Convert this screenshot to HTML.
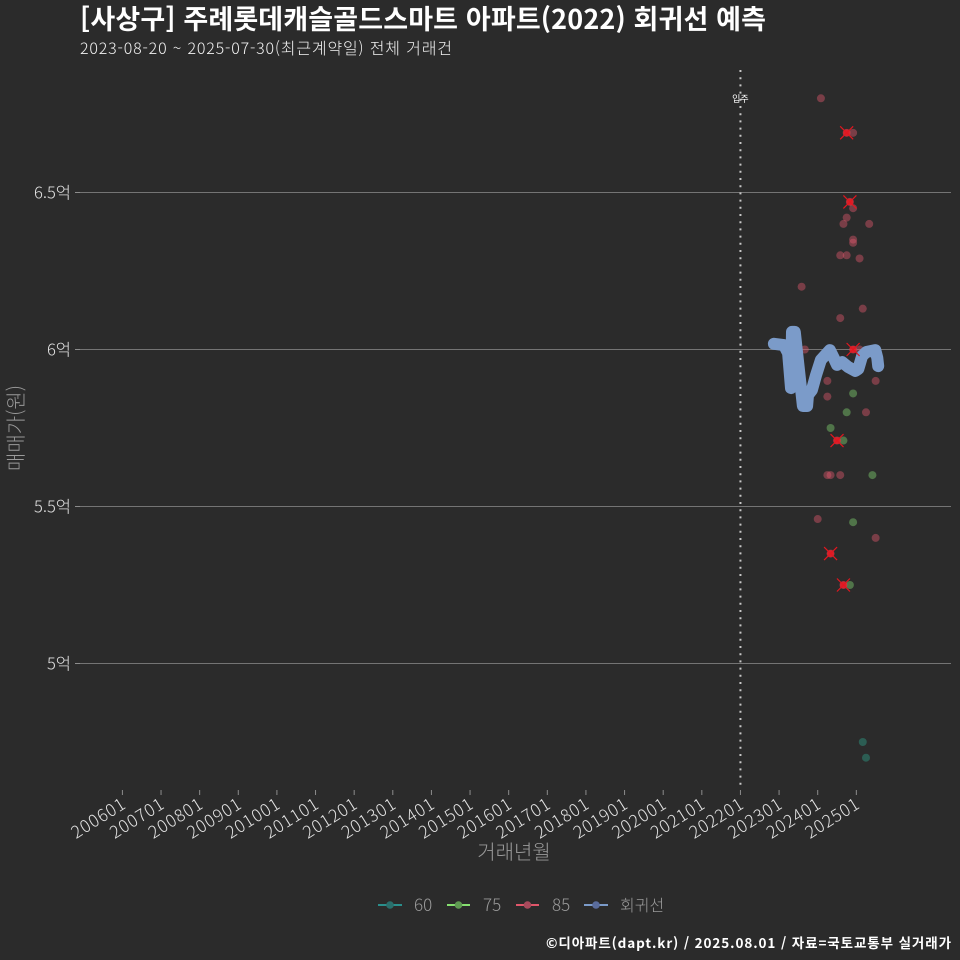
<!DOCTYPE html>
<html lang="ko">
<head>
<meta charset="utf-8">
<title>주례롯데캐슬골드스마트 아파트 회귀선 예측</title>
<style>
html,body{margin:0;padding:0;background:#2b2b2b;width:960px;height:960px;overflow:hidden}
svg{display:block}
text{font-family:"Noto Sans CJK KR","Liberation Sans",sans-serif}
</style>
</head>
<body>
<svg id="chart" width="960" height="960" viewBox="0 0 960 960" xmlns="http://www.w3.org/2000/svg">
  <rect x="0" y="0" width="960" height="960" fill="#2b2b2b"/>
  <text x="80" y="29" font-size="27" font-weight="700" fill="#ffffff" textLength="686" lengthAdjust="spacing">[사상구] 주례롯데캐슬골드스마트 아파트(2022) 회귀선 예측</text>
  <text x="80" y="54" font-size="16" font-weight="300" fill="#f2f2f2" textLength="372" lengthAdjust="spacing">2023-08-20 ~ 2025-07-30(최근계약일) 전체 거래건</text>
  <g id="grid"></g>
  <g id="yticks"></g>
  <g id="xticks"></g>
  <line id="moveIn" stroke="#c8c8c8" stroke-width="2" stroke-dasharray="2 5.2"/>
  <text id="moveInLabel" font-size="9" fill="#ffffff" text-anchor="middle">입주</text>
  <g id="points"></g>
  <path id="reg" fill="none" stroke="#7b9bc9" stroke-width="12" stroke-linecap="round" stroke-linejoin="round"/>
  <g id="marks"></g>
  <text x="514" y="859" font-size="20" font-weight="300" fill="#9a9a9a" text-anchor="middle">거래년월</text>
  <text transform="translate(23,428) rotate(-90)" font-size="20" font-weight="300" fill="#9a9a9a" text-anchor="middle">매매가(원)</text>
  <g>
    <g>
      <line x1="378" x2="402" y1="905" y2="905" stroke="#2a8f8c" stroke-width="2"/>
      <circle cx="390" cy="905" r="3.8" fill="#2a6f6c"/>
      <text x="414" y="911" font-size="17" font-weight="300" fill="#9a9a9a">60</text>
    </g>
    <g>
      <line x1="447" x2="470" y1="905" y2="905" stroke="#86e070" stroke-width="2"/>
      <circle cx="458.500" cy="905" r="3.8" fill="#5f9a52"/>
      <text x="483" y="911" font-size="17" font-weight="300" fill="#9a9a9a">75</text>
    </g>
    <g>
      <line x1="516" x2="539" y1="905" y2="905" stroke="#e0566a" stroke-width="2"/>
      <circle cx="527.500" cy="905" r="3.8" fill="#a84a5c"/>
      <text x="552" y="911" font-size="17" font-weight="300" fill="#9a9a9a">85</text>
    </g>
    <g>
      <line x1="584" x2="608" y1="905" y2="905" stroke="#7b9bc9" stroke-width="2"/>
      <circle cx="596" cy="905" r="3.8" fill="#5a6c9c"/>
      <text x="620" y="911" font-size="16" font-weight="300" fill="#9a9a9a">회귀선</text>
    </g>
  </g>
  <text x="546" y="948" font-size="13.5" font-weight="700" fill="#ffffff" textLength="405" lengthAdjust="spacing">©디아파트(dapt.kr) / 2025.08.01 / 자료=국토교통부 실거래가</text>
</svg>
<script>
const yTickValues = [5, 5.5, 6, 6.5];
const yTickLabels = ['5억', '5.5억', '6억', '6.5억'];
const xTickLabels = ['200601','200701','200801','200901','201001','201101','201201','201301','201401','201501','201601','201701','201801','201901','202001','202101','202201','202301','202401','202501'];
const moveInMonth = '202201';

const months60 = ['202503','202504'];
const prices60 = [4.75, 4.70];

const months75 = ['202405','202409','202412','202410','202506','202412','202411'];
const prices75 = [5.75, 5.71, 5.86, 5.80, 5.60, 5.45, 5.25];

const months85 = ['202402','202412','202410','202411','202412','202410','202409','202505','202412','202412','202408','202410','202502','202308','202503','202408','202309','202412','202502','202507','202404','202404','202504','202407','202404','202405','202408','202401','202507','202405','202409'];
const prices85 = [6.80, 6.69, 6.69, 6.47, 6.45, 6.42, 6.40, 6.40, 6.35, 6.34, 6.30, 6.30, 6.29, 6.20, 6.13, 6.10, 6.00, 6.00, 6.00, 5.90, 5.90, 5.85, 5.80, 5.71, 5.60, 5.60, 5.60, 5.46, 5.40, 5.35, 5.25];

const crossMonths = ['202410','202411','202412','202407','202405','202409'];
const crossPrices = [6.69, 6.47, 6.00, 5.71, 5.35, 5.25];

const regMonths = [202.4,205.5,206.8,207.7,208.0,208.9,211.4,212.7,213.0,214.2,215.5,217.0,219.8,221.0,222.0,223.6,225.5,227.7,228.6,229.8,231.1,233.9,234.5,234.8];
const regPrices = [6.018,6.014,5.989,5.877,6.056,6.056,5.820,5.820,5.855,5.871,5.919,5.967,5.998,5.973,5.951,5.960,5.944,5.932,5.938,5.979,5.992,5.998,5.973,5.947];

const NS = 'http://www.w3.org/2000/svg';
function xIdx(i){ return 122.4 + i * 3.219; }
function xMonth(s){ return xIdx((+s.slice(0,4) - 2006) * 12 + (+s.slice(4) - 1)); }
function yVal(v){ return 349.5 - (v - 6) * 314; }
function make(tag, parent, attrs){
  const el = document.createElementNS(NS, tag);
  Object.keys(attrs).forEach(function(k){ el.setAttribute(k, attrs[k]); });
  parent.appendChild(el);
  return el;
}

const grid = document.getElementById('grid');
const yticks = document.getElementById('yticks');
yTickValues.forEach(function(v, i){
  const ln = make('line', grid, {x1: 80, x2: 951, y1: yVal(v), y2: yVal(v), stroke: '#747474', 'stroke-width': 1});
  
  
  const tk = make('line', yticks, {x1: 75, x2: 80, y1: yVal(v), y2: yVal(v), stroke: '#8c8c8c', 'stroke-width': 1});
  
  
  const t = make('text', yticks, {x: 71, y: yVal(v) + 6, 'font-size': 16.5, 'font-weight': 300, fill: '#e2e2e2', 'text-anchor': 'end'});
  t.textContent = yTickLabels[i];
  
  
});

const xticks = document.getElementById('xticks');
xTickLabels.forEach(function(m){
  const x = xMonth(m);
  const tk = make('line', xticks, {x1: x, x2: x, y1: 790, y2: 795, stroke: '#8c8c8c', 'stroke-width': 1});
  
  
  const t = make('text', xticks, {transform: 'translate(' + (x + 5) + ',807) rotate(-32)', 'font-size': 17, 'font-weight': 300, 'letter-spacing': 1, fill: '#e2e2e2', 'text-anchor': 'end'});
  t.textContent = m;
  
  
});

const mv = document.getElementById('moveIn');
mv.setAttribute('x1', xMonth(moveInMonth));
mv.setAttribute('x2', xMonth(moveInMonth));
mv.setAttribute('y1', 70);
mv.setAttribute('y2', 790);
const mvl = document.getElementById('moveInLabel');
mvl.setAttribute('x', xMonth(moveInMonth));
mvl.setAttribute('y', 102);

const pts = document.getElementById('points');
function drawSeries(months, prices, color, name){
  months.forEach(function(m, i){
    const c = make('circle', pts, {cx: xMonth(m), cy: yVal(prices[i]), r: 4, fill: color, 'fill-opacity': 0.45});
    
    
  });
}
drawSeries(months60, prices60, '#2f9c84', 'point-60');
drawSeries(months75, prices75, '#7fcf6e', 'point-75');
drawSeries(months85, prices85, '#d9566a', 'point-85');

const d = regMonths.map(function(m, i){
  return (i ? 'L' : 'M') + xIdx(m).toFixed(1) + ' ' + yVal(regPrices[i]).toFixed(1);
}).join(' ');
document.getElementById('reg').setAttribute('d', d);

const marks = document.getElementById('marks');
crossMonths.forEach(function(m, i){
  const x = xMonth(m), y = yVal(crossPrices[i]);
  const g = make('g', marks, {});
  
  
  const dot = make('circle', g, {cx: x, cy: y, r: 3.6, fill: '#f01a24', 'fill-opacity': 0.8});
  
  
  const a = make('line', g, {x1: x - 6.5, y1: y - 6.5, x2: x + 6.5, y2: y + 6.5, stroke: '#e5161f', 'stroke-width': 1.2});
  
  
  const b = make('line', g, {x1: x - 6.5, y1: y + 6.5, x2: x + 6.5, y2: y - 6.5, stroke: '#e5161f', 'stroke-width': 1.2});
  
  
});
</script>
</body>
</html>
